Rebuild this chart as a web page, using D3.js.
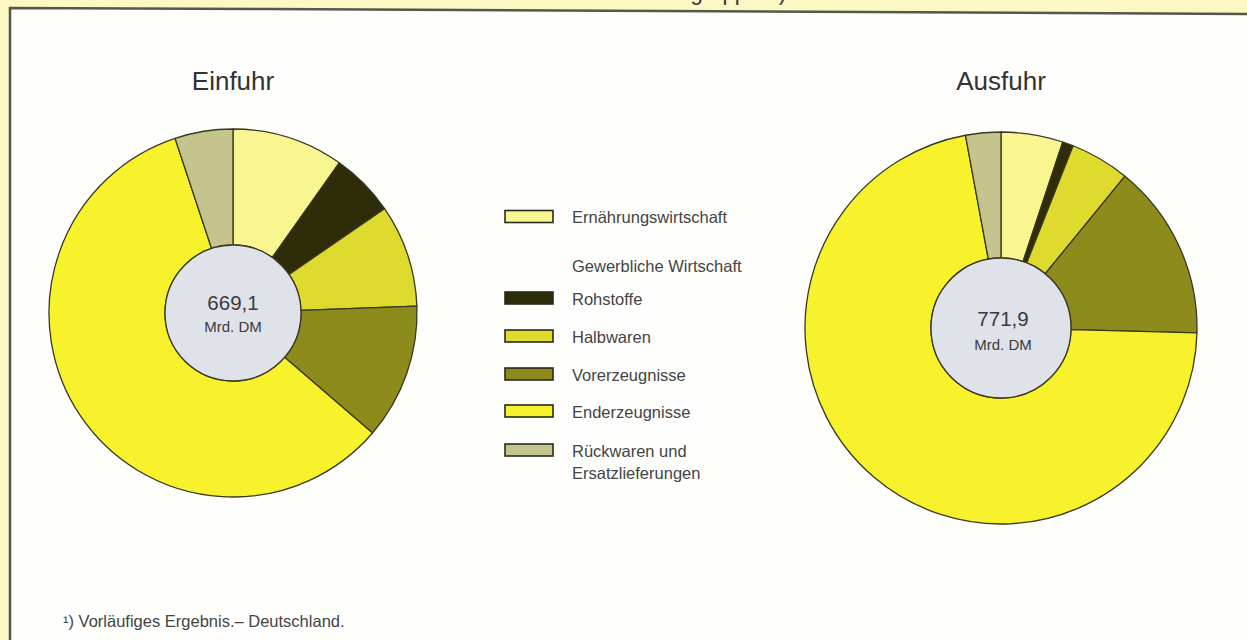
<!DOCTYPE html>
<html lang="de">
<head>
<meta charset="utf-8">
<title>Einfuhr und Ausfuhr nach Warengruppen</title>
<script src="https://cdn.jsdelivr.net/npm/d3@7"></script>
<style>
  html, body { margin: 0; padding: 0; background: #fcf8c4; }
  svg { display: block; }
  text { font-family: "Liberation Sans", Arial, Helvetica, sans-serif; }
</style>
</head>
<body>
<svg id="chart" width="1247" height="640"></svg>
<script>
// Warengruppen (Reihenfolge im Uhrzeigersinn ab 12 Uhr)
const categories = [
  "Ernährungswirtschaft",
  "Rohstoffe",
  "Halbwaren",
  "Vorerzeugnisse",
  "Enderzeugnisse",
  "Rückwaren und Ersatzlieferungen"
];
// Werte in Mrd. DM
const einfuhrValues = [65.6, 37.5, 60.2, 79.6, 392.1, 34.1];
const ausfuhrValues = [39.4, 6.9, 37.8, 111.9, 553.5, 22.4];
const pieTitles = ["Einfuhr", "Ausfuhr"];
const totalLabels = ["669,1", "771,9"];
const unitLabel = "Mrd. DM";
const legendHeader = "Gewerbliche Wirtschaft";
const footnote = "\u00b9) Vorläufiges Ergebnis.\u2013 Deutschland.";
const headline = "Einfuhr und Ausfuhr nach Warengruppen\u00b9)";

const palette = ["#f9f692", "#2f2c0a", "#dedb2e", "#8e8b1d", "#f7f22c", "#c5c48d"];

const svg = d3.select("#chart");
const W = 1247, H = 640;

// Seitenhintergrund und Tafel
svg.append("rect").attr("width", W).attr("height", H).attr("fill", "#fcf8c4");
svg.append("text")
  .attr("x", 786).attr("y", 0)
  .attr("text-anchor", "end")
  .attr("font-size", 22)
  .attr("fill", "#333")
  .text(headline);
svg.append("path")
  .attr("d", "M10,8 L270,9 L1247,14 L1247,640 L10,640 Z")
  .attr("fill", "#fefefd");
svg.append("path")
  .attr("d", "M10,640 L10,8 L270,9 L1247,14")
  .attr("fill", "none")
  .attr("stroke", "#56564a")
  .attr("stroke-width", 2.5);

const color = d3.scaleOrdinal().domain(categories).range(palette);

const pie = d3.pie().sort(null).value(d => d.value)
  .startAngle(0).endAngle(2 * Math.PI);

const pies = [
  { values: einfuhrValues, cx: 233, cy: 313, r: 184, ri: 68, tx: 233, titleY: 90, totalY: 310, unitY: 332 },
  { values: ausfuhrValues, cx: 1001, cy: 328, r: 196, ri: 70, tx: 1003, titleY: 90, totalY: 326, unitY: 350 }
];

pies.forEach((p, i) => {
  const data = categories.map((c, k) => ({ cat: c, value: p.values[k] }));
  const arc = d3.arc().innerRadius(p.ri).outerRadius(p.r);
  const g = svg.append("g").attr("transform", `translate(${p.cx},${p.cy})`);

  g.selectAll("path.slice")
    .data(pie(data))
    .join("path")
    .attr("class", "slice")
    .attr("d", arc)
    .attr("fill", d => color(d.data.cat))
    .attr("stroke", "#3a3820")
    .attr("stroke-width", 1.3)
    .attr("stroke-linejoin", "round");

  g.append("circle")
    .attr("r", p.ri)
    .attr("fill", "#e0e2ea")
    .attr("stroke", "#3a3820")
    .attr("stroke-width", 1.3);

  svg.append("text")
    .attr("x", p.tx).attr("y", p.totalY)
    .attr("text-anchor", "middle")
    .attr("font-size", 20.5)
    .attr("fill", "#3a3a3a")
    .text(totalLabels[i]);
  svg.append("text")
    .attr("x", p.tx).attr("y", p.unitY)
    .attr("text-anchor", "middle")
    .attr("font-size", 15)
    .attr("fill", "#3a3a3a")
    .text(unitLabel);

  svg.append("text")
    .attr("x", p.cx).attr("y", p.titleY)
    .attr("text-anchor", "middle")
    .attr("font-size", 26)
    .attr("fill", "#333")
    .text(pieTitles[i]);
});

// Legende
const legend = svg.append("g");
const sx = 505, sw = 48, sh = 12, tx = 572;
const rowY = [216.5, 298, 336, 374, 411, 450];

categories.forEach((c, k) => {
  legend.append("rect")
    .attr("x", sx).attr("y", rowY[k] - sh / 2)
    .attr("width", sw).attr("height", sh)
    .attr("fill", color(c))
    .attr("stroke", "#2a2a1a")
    .attr("stroke-width", 1.6);
  const lines = c === "Rückwaren und Ersatzlieferungen" ? ["Rückwaren und", "Ersatzlieferungen"] : [c];
  lines.forEach((ln, j) => {
    legend.append("text")
      .attr("x", tx).attr("y", rowY[k] + 6.5 + j * 22)
      .attr("font-size", 16.5)
      .attr("fill", "#444")
      .text(ln);
  });
});
legend.append("text")
  .attr("x", tx).attr("y", 272)
  .attr("font-size", 16.5)
  .attr("fill", "#444")
  .text(legendHeader);

// Fußnote
svg.append("text")
  .attr("x", 63).attr("y", 627)
  .attr("font-size", 16.5)
  .attr("fill", "#444")
  .text(footnote);
</script>
</body>
</html>
